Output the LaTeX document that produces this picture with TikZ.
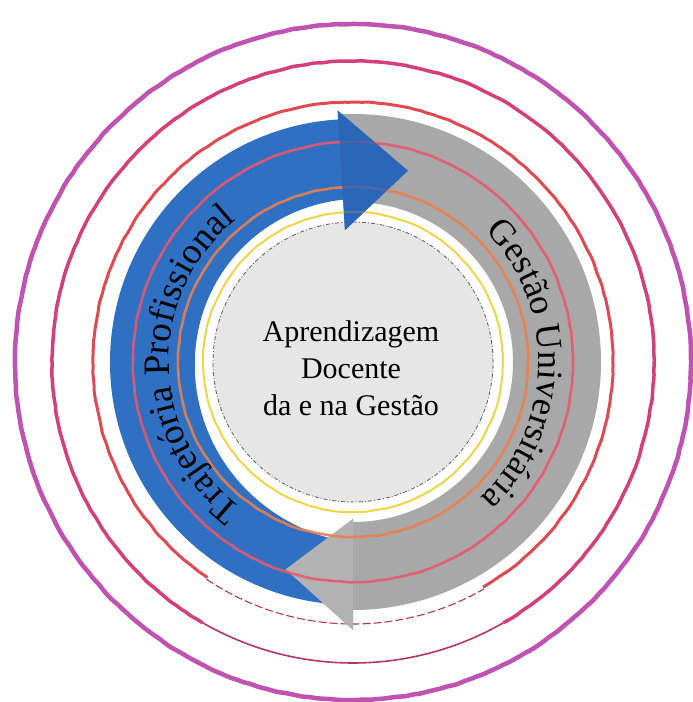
\documentclass[tikz,border=0pt]{standalone}
\usepackage{fontspec}
\setmainfont{Liberation Serif}
\usetikzlibrary{decorations.text,decorations.pathmorphing}
\definecolor{ringpurple}{RGB}{192,82,178}
\definecolor{ringpink}{RGB}{214,62,122}
\definecolor{ringred}{RGB}{226,72,82}
\definecolor{ringrose}{RGB}{232,88,110}
\definecolor{ringorange}{RGB}{232,128,78}
\definecolor{ringyellow}{RGB}{240,214,70}
\definecolor{bandblue}{RGB}{48,112,195}
\definecolor{headblue}{RGB}{42,100,182}
\definecolor{bandgrey}{RGB}{168,168,168}
\definecolor{headgrey}{RGB}{178,178,178}
\definecolor{coregrey}{RGB}{230,230,230}
\definecolor{coreline}{RGB}{90,90,90}
\newcommand\curvefontA{\fontsize{36pt}{36pt}\selectfont}
\newcommand\curvefontB{\fontsize{37pt}{37pt}\selectfont}
\newcommand\corefont{\fontsize{30pt}{37pt}\selectfont}
\begin{document}
\begin{tikzpicture}[x=1pt,y=1pt,
  sketch/.style={decorate, decoration={random steps, segment length=6pt, amplitude=0.45pt}, rounded corners=2pt},
  ringline/.style={sketch, line width=#1},
  corecircle/.style={fill=coregrey, draw=coreline, line width=0.8pt, dash pattern=on 4pt off 2pt on 1pt off 2pt},
  curvetext/.style={decorate, decoration={text along path, text align=center, text={#1}}}]
\pgfmathsetseed{11}
\useasboundingbox (0,0) rectangle (693,702);
\fill[white] (0,0) rectangle (693,702);
\begin{scope}[shift={(353,340)}]
  % outer rings
  \draw[ringline=4.5pt, ringpurple] (0,0) circle[radius=338pt];
  \draw[ringline=3.5pt, ringpink] (300:301pt) arc[start angle=300, end angle=600, radius=301pt];
  \draw[line width=1.6pt, ringpink!85!black] (240:301pt) arc[start angle=240, end angle=300, radius=301pt];
  \draw[ringline=3pt, ringred] (300:260pt) arc[start angle=300, end angle=596, radius=260pt];
  \draw[line width=1.1pt, ringred!80!black, dash pattern=on 8pt off 3pt] (236:262pt) arc[start angle=236, end angle=300, radius=262pt];
  % core
  \node[circle, corecircle, minimum size=280pt, inner sep=0pt] (core) at (0,0) {};
  % grey arrow
  \fill[bandgrey] (93.5:248pt) arc[start angle=93.5, end angle=-90, radius=248pt]
     -- (270:268pt) -- (252:218pt) -- (270:157pt) -- (270:160pt)
     arc[start angle=-90, end angle=93.5, radius=160pt] -- cycle;
  % blue arrow
  \fill[bandblue] (265:243pt) arc[start angle=265, end angle=93.5, radius=243pt]
     -- (93.5:252pt) -- (74:199pt) -- (93.5:132pt) -- (93.5:162.7pt)
     -- plot[domain=93.5:265, samples=80] (\x:{158 + (\x>170)*0.0023*(\x-170)^2 + (\x<=170)*0.0008*(\x-170)^2}) -- cycle;
  % grey head on top
  \fill[headgrey] (270:268pt) -- (252:218pt) -- (270:157pt) -- cycle;
  % inner rings
  \draw[ringline=2pt, ringyellow] (0,0) circle[radius=150pt];
  \draw[ringline=2.6pt, ringorange, opacity=0.9] (0,0) circle[radius=175pt];
  \draw[ringline=2.6pt, ringrose, opacity=0.9] (0,0) circle[radius=220pt];
  % blue head over the rings
  \fill[headblue, fill opacity=0.8] (93.5:252pt) -- (74:199pt) -- (93.5:132pt) -- cycle;
  % curved labels
  \path[curvetext={|\curvefontA|Gestão Universitária}] (52:186pt) arc[start angle=52, end angle=-54, radius=186pt];
  \path[curvetext={|\curvefontB|Trajetória Profissional}] (246:184pt) arc[start angle=246, end angle=116, radius=184pt];
  % centre text
  \node[align=center, font=\corefont, text=black] (label) at (-2,-6) {Aprendizagem\\Docente\\da e na Gestão};
\end{scope}
\end{tikzpicture}
\end{document}
